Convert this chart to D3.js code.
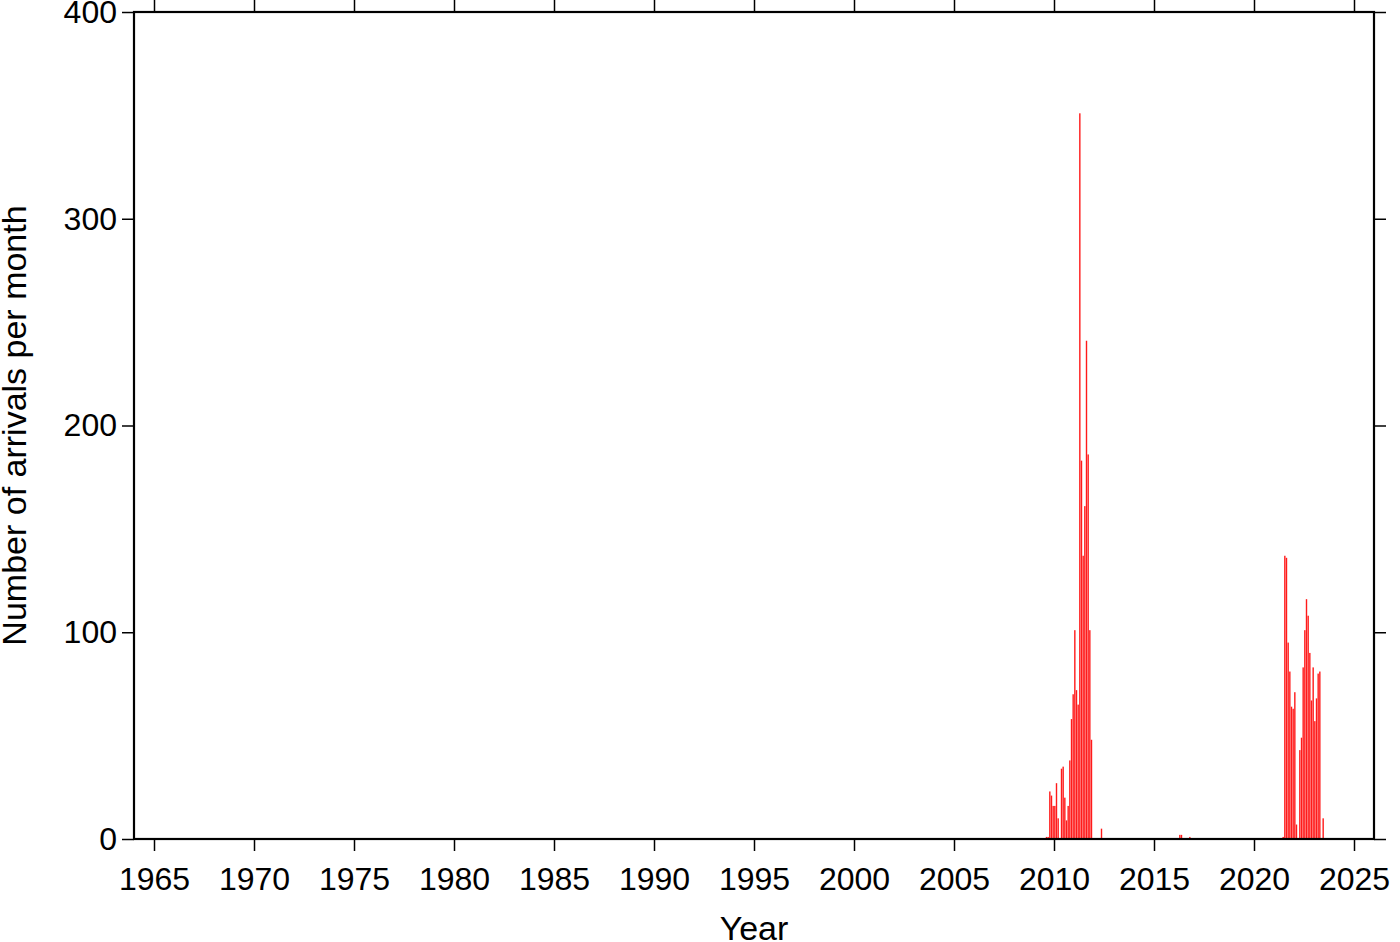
<!DOCTYPE html>
<html>
<head>
<meta charset="utf-8">
<script src="https://cdn.jsdelivr.net/npm/d3@7"></script>
<style>
  html, body { margin: 0; padding: 0; background: #fff; }
  svg { display: block; font-family: "Liberation Sans", Arial, Helvetica, sans-serif; }
</style>
</head>
<body>
<svg id="chart" width="1400" height="942"></svg>
<script>
// ---- data (monthly arrival counts) ----
const months = [
  "2009-08","2009-09","2009-10","2009-11","2009-12",
  "2010-01","2010-02","2010-03","2010-05","2010-06","2010-07","2010-08","2010-09","2010-10","2010-11","2010-12",
  "2011-01","2011-02","2011-03","2011-04","2011-05","2011-06","2011-07","2011-08","2011-09","2011-10","2011-11",
  "2012-05",
  "2016-04","2016-05","2016-10",
  "2021-06","2021-07","2021-08","2021-09","2021-10","2021-11","2021-12",
  "2022-01","2022-02","2022-04","2022-05","2022-06","2022-07","2022-08","2022-09","2022-10","2022-11","2022-12",
  "2023-01","2023-02","2023-03","2023-04","2023-06"
];
const counts = [
  1,1,23,21,16,
  16,27,10,34,35,20,9,16,38,58,70,
  101,72,65,351,183,137,161,241,186,101,48,
  5,
  2,2,1,
  1,137,136,95,81,64,63,
  71,7,43,49,83,101,116,108,90,67,83,
  57,68,80,81,10
];
const xTicks = [1965,1970,1975,1980,1985,1990,1995,2000,2005,2010,2015,2020,2025];
const yTicks = [0,100,200,300,400];
const xDomain = [1964, 2026];
const yDomain = [0, 400];
const xLabel = "Year";
const yLabel = "Number of arrivals per month";

// ---- layout ----
const svg = d3.select("#chart");
const L = 134, R = 1374, T = 12, B = 839;
const x = d3.scaleLinear().domain(xDomain).range([L, R]);
const y = d3.scaleLinear().domain(yDomain).range([B, T]);

const data = months.map((m, i) => {
  const [yy, mm] = m.split("-").map(Number);
  return { t: yy + (mm - 1) / 12, v: counts[i] };
});
const monthW = x(xDomain[0] + 1/12) - x(xDomain[0]);

// bars
svg.append("g").selectAll("rect").data(data).join("rect")
  .attr("x", d => x(d.t) + monthW * 0.08)
  .attr("width", monthW * 0.84)
  .attr("y", d => y(d.v))
  .attr("height", d => y(0) - y(d.v))
  .attr("fill", "#ff1a1a");

const tickLen = 12;
const fontSize = 32;

// axes
const gB = svg.append("g").attr("transform", `translate(0,${B})`)
  .call(d3.axisBottom(x).tickValues(xTicks).tickFormat(d3.format("d")).tickSize(tickLen).tickPadding(16));
const gT = svg.append("g").attr("transform", `translate(0,${T})`)
  .call(d3.axisTop(x).tickValues(xTicks).tickFormat("").tickSize(tickLen));
const gL = svg.append("g").attr("transform", `translate(${L},0)`)
  .call(d3.axisLeft(y).tickValues(yTicks).tickFormat(d3.format("d")).tickSize(tickLen).tickPadding(5));
const gR = svg.append("g").attr("transform", `translate(${R},0)`)
  .call(d3.axisRight(y).tickValues(yTicks).tickFormat("").tickSize(tickLen));

[gB, gT, gL, gR].forEach(g => {
  g.select(".domain").remove();
  g.selectAll(".tick line").attr("stroke", "#000").attr("stroke-width", 1.5);
  g.selectAll(".tick text").attr("fill", "#000")
    .style("font-size", fontSize + "px")
    .style("font-family", '"Liberation Sans", Arial, Helvetica, sans-serif');
});

// frame
svg.append("rect")
  .attr("x", L).attr("y", T).attr("width", R - L).attr("height", B - T)
  .attr("fill", "none").attr("stroke", "#000").attr("stroke-width", 2.2);

// axis labels
svg.append("text")
  .attr("x", (L + R) / 2).attr("y", 940)
  .attr("text-anchor", "middle")
  .style("font-size", "34px")
  .text(xLabel);
svg.append("text")
  .attr("transform", `translate(26,${(T + B) / 2}) rotate(-90)`)
  .attr("text-anchor", "middle")
  .style("font-size", "34px")
  .text(yLabel);
</script>
</body>
</html>
